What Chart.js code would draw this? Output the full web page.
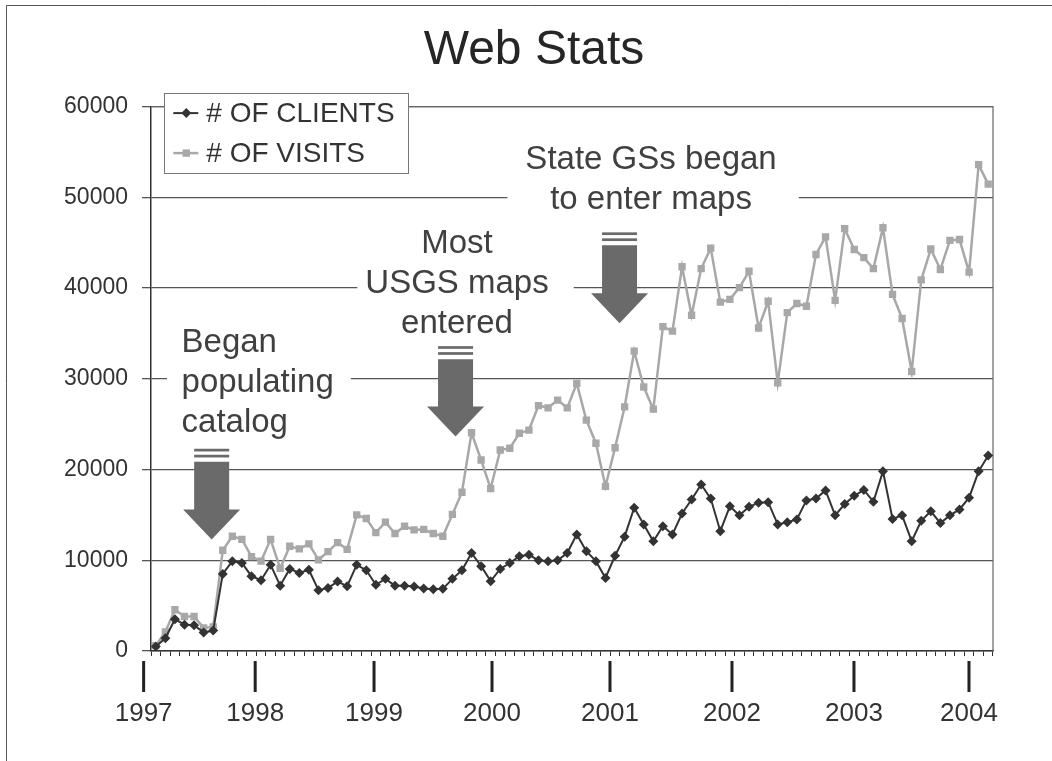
<!DOCTYPE html>
<html><head><meta charset="utf-8">
<script src="https://cdn.jsdelivr.net/npm/chart.js@4.4.0/dist/chart.umd.min.js"></script>
<style>html,body{margin:0;padding:0;background:#fff;}#wrap{width:1052px;height:761px;}</style>
</head><body><div id="wrap"><canvas id="c" width="1052" height="761"></canvas></div>
<script>
// ---- data (monthly values) ----
const clients = [
  500, 1400, 3500, 2900, 2850, 2050, 2250, 8500, 9900, 9700,
  8250, 7800, 9500, 7200, 9050, 8600, 8950, 6700, 6950, 7650,
  7150, 9500, 8900, 7300, 7950, 7200, 7200, 7100, 6900, 6800,
  6850, 7950, 8900, 10800, 9350, 7700, 9050, 9700, 10450, 10600,
  10000, 9900, 10000, 10800, 12850, 11000, 9900, 8050, 10500, 12600,
  15800, 13950, 12100, 13750, 12850, 15150, 16700, 18350, 16800, 13200,
  15950, 14950, 15900, 16350, 16400, 13950, 14200, 14500, 16600, 16800,
  17700, 14950, 16200, 17100, 17750, 16450, 19800, 14550, 14950, 12100,
  14350, 15400, 14100, 14950, 15600, 16900, 19800, 21550
];
const visits = [
  600, 2100, 4550, 3800, 3800, 2550, 2650, 11100, 12650, 12300,
  10400, 9900, 12300, 9100, 11550, 11250, 11800, 10050, 10950, 11950,
  11200, 15000, 14600, 13050, 14200, 12950, 13750, 13350, 13400, 12950,
  12650, 15050, 17500, 24050, 21050, 17900, 22150, 22350, 24000, 24350,
  27050, 26800, 27650, 26800, 29500, 25450, 22900, 18150, 22400, 26900,
  33050, 29100, 26650, 35750, 35250, 42350, 37000, 42150, 44400, 38450,
  38750, 40050, 41850, 35600, 38550, 29550, 37300, 38300, 38000, 43700,
  45650, 38650, 46550, 44250, 43350, 42150, 46650, 39300, 36650, 30800,
  40900, 44300, 42050, 45250, 45350, 41750, 53600, 51450
];
const seriesNames = ['# OF CLIENTS', '# OF VISITS'];
const yTickValues = [0, 10000, 20000, 30000, 40000, 50000, 60000];
const yearLabels = ['1997','1998','1999','2000','2001','2002','2003','2004'];
const yearPositions = [-1.27, 10.39, 22.81, 35.14, 47.47, 60.22, 72.97, 84.99]; // in month-index units
const titleText = 'Web Stats';

// annotations (anchored in data units: month index / value)
const noteLines = [['Began','populating','catalog'], ['Most','USGS maps','entered'], ['State GSs began','to enter maps']];
const noteAlign = ['left','center','center'];
const noteX = [2.69, 31.48, 51.76];
const noteY = [32910, 43830, 53090];
const arrowTipX = [5.84, 31.33, 48.47];
const arrowTipY = [12300, 23650, 36110];
const arrowTopY = [22290, 33600, 46140];

// categories: months
const months = [];
for (let i = 0; i < clients.length; i++) {
  months.push((1997 + Math.floor(i / 12)) + '-' + String(i % 12 + 1).padStart(2, '0'));
}

const FONT = '"Liberation Sans", Arial, sans-serif';
Chart.defaults.font.family = FONT;

const decor = {
  id: 'decor',
  beforeDraw(chart) {
    const c = chart.ctx;
    c.save();
    c.fillStyle = '#fff';
    c.fillRect(0, 0, chart.width, chart.height);
    c.strokeStyle = '#555';
    c.lineWidth = 1;
    c.beginPath();
    c.moveTo(6.5, chart.height);
    c.lineTo(6.5, 5.5);
    c.lineTo(chart.width, 5.5);
    c.stroke();
    c.restore();
  },
  beforeDatasetsDraw(chart) {
    const c = chart.ctx, a = chart.chartArea;
    const xs = chart.scales.x, ys = chart.scales.y;
    c.save();
    // plot box (top & right)
    c.strokeStyle = '#666';
    c.lineWidth = 1.2;
    c.beginPath();
    c.moveTo(a.left, a.top);
    c.lineTo(a.right, a.top);
    c.lineTo(a.right, a.bottom);
    c.stroke();
    // notes
    const boxPad = [[14.5, 17], [8, 25], [18, 22]];
    const lh = 39.7;
    c.font = '33px ' + FONT;
    for (let k = 0; k < noteLines.length; k++) {
      const lines = noteLines[k];
      const ax = xs.getPixelForValue(noteX[k]);
      const ay = ys.getPixelForValue(noteY[k]);
      const maxW = Math.max(...lines.map(l => c.measureText(l).width));
      const left = noteAlign[k] === 'left' ? ax : ax - maxW / 2;
      c.fillStyle = '#fff';
      c.fillRect(left - boxPad[k][0], ay - 32, maxW + boxPad[k][0] + boxPad[k][1], (lines.length - 1) * lh + 44);
      c.fillStyle = '#404040';
      c.textAlign = noteAlign[k];
      c.textBaseline = 'alphabetic';
      lines.forEach((l, j) => c.fillText(l, ax, ay + j * lh));
    }
    // arrows
    c.fillStyle = '#6a6a6a';
    for (let k = 0; k < arrowTipX.length; k++) {
      const tx = xs.getPixelForValue(arrowTipX[k]);
      const ty = ys.getPixelForValue(arrowTipY[k]);
      const top = ys.getPixelForValue(arrowTopY[k]);
      c.fillRect(tx - 17.5, top, 35, 2.7);
      c.fillRect(tx - 17.5, top + 6, 35, 2.7);
      c.beginPath();
      c.moveTo(tx - 17.5, top + 13);
      c.lineTo(tx + 17.5, top + 13);
      c.lineTo(tx + 17.5, ty - 30);
      c.lineTo(tx + 28.5, ty - 30);
      c.lineTo(tx, ty);
      c.lineTo(tx - 28.5, ty - 30);
      c.lineTo(tx - 17.5, ty - 30);
      c.closePath();
      c.fill();
    }
    c.restore();
  },
  afterDraw(chart) {
    const c = chart.ctx, a = chart.chartArea, xs = chart.scales.x;
    c.save();
    // year ticks & labels
    c.fillStyle = '#333';
    c.strokeStyle = '#222';
    c.lineWidth = 3;
    c.font = '26px ' + FONT;
    c.textAlign = 'center';
    c.textBaseline = 'middle';
    yearLabels.forEach((lab, i) => {
      const px = xs.getPixelForValue(yearPositions[i]);
      c.beginPath();
      c.moveTo(px, a.bottom + 10);
      c.lineTo(px, a.bottom + 41);
      c.stroke();
      c.fillText(lab, px, a.bottom + 63);
    });
    // legend
    const x0 = a.left + 13.3, y0 = a.top - 13.5, w = 244, h = 80;
    c.fillStyle = '#fff';
    c.fillRect(x0, y0, w, h);
    c.strokeStyle = '#777';
    c.lineWidth = 1;
    c.strokeRect(Math.round(x0) + 0.5, Math.round(y0) + 0.5, w, h);
    c.font = '28px ' + FONT;
    c.textAlign = 'left';
    chart.data.datasets.forEach((ds, r) => {
      const cy = y0 + 20 + r * 40;
      c.strokeStyle = ds.borderColor;
      c.lineWidth = ds.borderWidth;
      c.beginPath();
      c.moveTo(x0 + 9, cy);
      c.lineTo(x0 + 34, cy);
      c.stroke();
      c.fillStyle = ds.backgroundColor;
      const mx = x0 + 22, rr = ds.pointRadius;
      c.beginPath();
      if (ds.pointStyle === 'rectRot') {
        c.moveTo(mx, cy - rr); c.lineTo(mx + rr, cy); c.lineTo(mx, cy + rr); c.lineTo(mx - rr, cy);
      } else {
        const s = rr * Math.SQRT1_2;
        c.rect(mx - s, cy - s, 2 * s, 2 * s);
      }
      c.closePath();
      c.fill();
      c.fillStyle = '#333';
      c.textBaseline = 'middle';
      c.fillText(ds.label, x0 + 42, cy + 1.5);
    });
    c.restore();
  }
};

new Chart(document.getElementById('c'), {
  type: 'line',
  data: {
    labels: months,
    datasets: [
      { label: seriesNames[0], data: clients, borderColor: '#333', backgroundColor: '#333',
        borderWidth: 2, pointStyle: 'rectRot', pointRadius: 5, pointBorderWidth: 0, pointHoverRadius: 5, tension: 0 },
      { label: seriesNames[1], data: visits, borderColor: '#a8a8a8', backgroundColor: '#a8a8a8',
        borderWidth: 2.5, pointStyle: 'rect', pointRadius: 5.2, pointBorderWidth: 0, pointHoverRadius: 5.2, tension: 0 }
    ]
  },
  options: {
    responsive: false,
    animation: false,
    devicePixelRatio: 1,
    layout: { padding: { left: 16, right: 0, top: 0, bottom: 0 } },
    plugins: {
      legend: { display: false },
      tooltip: { enabled: false },
      title: { display: true, text: titleText, color: '#262626',
        font: { size: 48, weight: 'normal', family: FONT, lineHeight: 1.2 },
        padding: { top: 22, bottom: 27 } }
    },
    scales: {
      x: {
        type: 'category', offset: true,
        grid: { drawOnChartArea: false, offset: true, tickLength: 5, color: '#333', lineWidth: 1 },
        ticks: { display: false, autoSkip: false },
        border: { color: '#333', width: 1.5 },
        afterFit(s) { s.height = 110; }
      },
      y: {
        min: 0, max: 60000,
        afterBuildTicks(s) { s.ticks = yTickValues.map(v => ({ value: v })); },
        ticks: { color: '#333', font: { size: 23, family: FONT }, padding: 14, callback: v => String(v) },
        grid: { color: '#555', lineWidth: 1.3, tickLength: 9, drawTicks: true },
        border: { color: '#333', width: 1.5 },
        afterFit(s) { s.width = 135; }
      },
      yRight: {
        type: 'linear', position: 'right', display: true,
        grid: { display: false, drawTicks: false }, border: { display: false },
        ticks: { display: false },
        afterFit(s) { s.width = 59; }
      }
    }
  },
  plugins: [decor]
});
</script>
</body></html>
